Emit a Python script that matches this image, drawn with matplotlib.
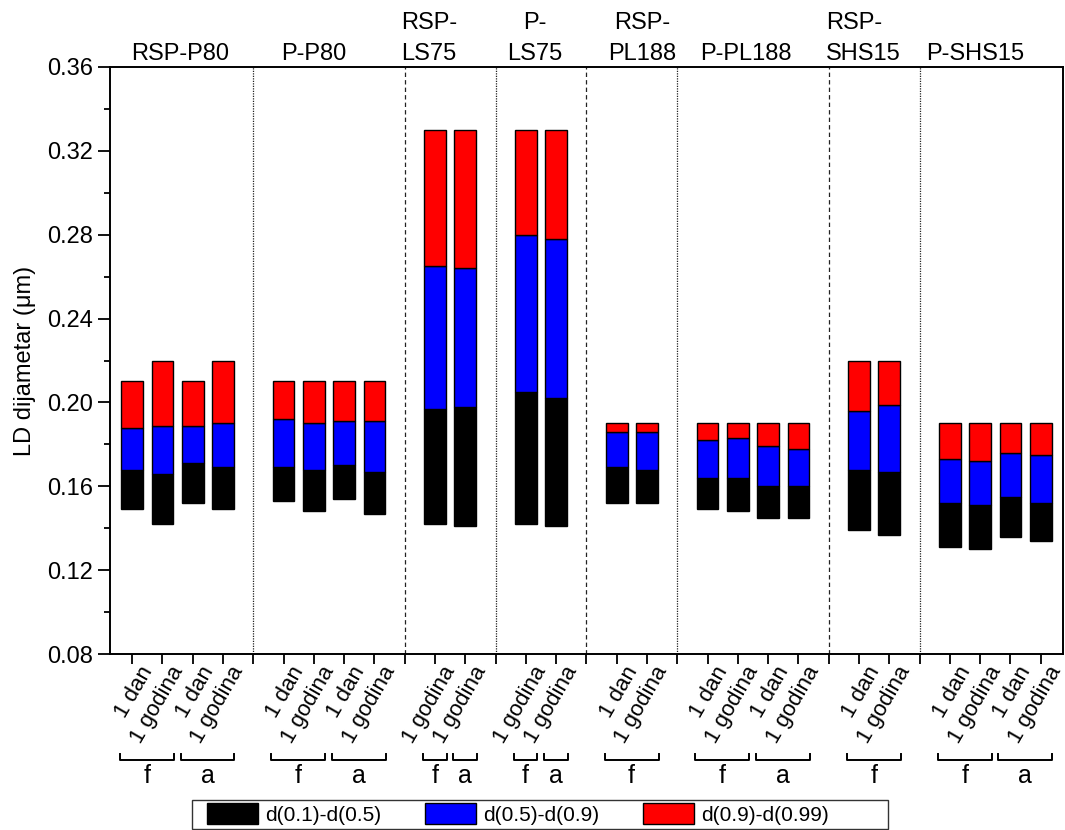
import numpy as np
import matplotlib
matplotlib.use('Agg')
import matplotlib.pyplot as plt
from matplotlib.patches import Patch, Rectangle
from matplotlib import transforms

plt.rcParams['font.family'] = ['Liberation Sans', 'DejaVu Sans']

# Sample groups (titles drawn above the plot)
groups = ['RSP-P80', 'P-P80', 'RSP-\nLS75', 'P-\nLS75',
          'RSP-\nPL188', 'P-PL188', 'RSP-\nSHS15', 'P-SHS15']

# Storage time for each bar, per group
times = [
    ['1 dan', '1 godina', '1 dan', '1 godina'],
    ['1 dan', '1 godina', '1 dan', '1 godina'],
    ['1 godina', '1 godina'],
    ['1 godina', '1 godina'],
    ['1 dan', '1 godina'],
    ['1 dan', '1 godina', '1 dan', '1 godina'],
    ['1 dan', '1 godina'],
    ['1 dan', '1 godina', '1 dan', '1 godina'],
]

# Sub-group brackets under the tick labels: (label, number of bars)
subgroups = [
    [('f', 2), ('a', 2)],
    [('f', 2), ('a', 2)],
    [('f', 1), ('a', 1)],
    [('f', 1), ('a', 1)],
    [('f', 2)],
    [('f', 2), ('a', 2)],
    [('f', 2)],
    [('f', 2), ('a', 2)],
]

# Diameter percentiles (um), one entry per bar, in plotting order
d10 = [0.149, 0.142, 0.152, 0.149,
       0.153, 0.148, 0.154, 0.147,
       0.142, 0.141,
       0.142, 0.141,
       0.152, 0.152,
       0.149, 0.148, 0.145, 0.145,
       0.139, 0.137,
       0.131, 0.130, 0.136, 0.134]
d50 = [0.168, 0.166, 0.171, 0.169,
       0.169, 0.168, 0.170, 0.167,
       0.197, 0.198,
       0.205, 0.202,
       0.169, 0.168,
       0.164, 0.164, 0.160, 0.160,
       0.168, 0.167,
       0.152, 0.151, 0.155, 0.152]
d90 = [0.188, 0.189, 0.189, 0.190,
       0.192, 0.190, 0.191, 0.191,
       0.265, 0.264,
       0.280, 0.278,
       0.186, 0.186,
       0.182, 0.183, 0.179, 0.178,
       0.196, 0.199,
       0.173, 0.172, 0.176, 0.175]
d99 = [0.210, 0.220, 0.210, 0.220,
       0.210, 0.210, 0.210, 0.210,
       0.330, 0.330,
       0.330, 0.330,
       0.190, 0.190,
       0.190, 0.190, 0.190, 0.190,
       0.220, 0.220,
       0.190, 0.190, 0.190, 0.190]

legend_labels = ['d(0.1)-d(0.5)', 'd(0.5)-d(0.9)', 'd(0.9)-d(0.99)']
seg_colors = ['#000000', '#0000ff', '#ff0000']

# ---- bar positions: one empty slot between groups holds the separator ----
positions, group_pos, separators = [], [], []
p = 1
for gi, g in enumerate(times):
    gp = list(range(p, p + len(g)))
    group_pos.append(gp)
    positions.extend(gp)
    p += len(g)
    if gi < len(times) - 1:
        separators.append(p)
        p += 1
positions = np.array(positions, dtype=float)

d10, d50, d90, d99 = map(np.array, (d10, d50, d90, d99))

W, H = 1065, 830
fig = plt.figure(figsize=(W / 100, H / 100), dpi=100)
ax = fig.add_axes([0.1033, 0.2120, 0.8947, 0.7073])

bw = 0.72
for bottom, top, col in zip((d10, d50, d90), (d50, d90, d99), seg_colors):
    ax.bar(positions, top - bottom, bottom=bottom, width=bw, color=col,
           edgecolor='black', linewidth=1.0, zorder=3)

# separators: dashed between materials, dotted between RSP/P of same material
def material(name):
    return name.split('-', 1)[1].strip()

for si, x in enumerate(separators):
    same = material(groups[si]) == material(groups[si + 1])
    ls = (0, (1, 1)) if same else (0, (3.5, 2.5))
    ax.axvline(x, color='#222222', lw=0.9, linestyle=ls, zorder=1)

ax.set_xlim(0.27, 31.73)
ax.set_ylim(0.08, 0.36)
ax.set_yticks(np.arange(0.08, 0.3601, 0.04))
ax.set_yticks(np.arange(0.10, 0.36, 0.04), minor=True)
ax.yaxis.set_major_formatter(matplotlib.ticker.FormatStrFormatter('%.2f'))

ax.tick_params(axis='both', which='major', direction='out', length=8.5,
               width=1.3, labelsize=17)
ax.tick_params(axis='x', which='major', length=7.5, pad=3.5, labelsize=16)
ax.tick_params(axis='y', which='major', pad=4)
ax.tick_params(axis='y', which='minor', direction='out', length=4, width=1.3)
ax.tick_params(top=False, right=False)
for s in ax.spines.values():
    s.set_linewidth(1.4)

all_ticks = list(positions) + separators
tick_text = [t for g in times for t in g] + [''] * len(separators)
ax.set_xticks(all_ticks)
ax.set_xticklabels(tick_text, rotation=60, rotation_mode='anchor',
                   ha='right', va='baseline', fontsize=16)
# shift each rotated label so its end sits to the right of its tick
offset = transforms.ScaledTranslation(15 / 72, -1 / 72, fig.dpi_scale_trans)
for lab in ax.get_xticklabels():
    lab.set_transform(lab.get_transform() + offset)

ax.set_ylabel('LD dijametar (\u03bcm)', fontsize=17, labelpad=8)

# group titles above the plot
blend = transforms.blended_transform_factory(ax.transData, ax.transAxes)
title_x = [2.6, 7.0, 10.8, 14.3, 17.85, 21.25, 25.15, 28.85]
for name, tx in zip(groups, title_x):
    malign = 'left' if 'SHS15' in name and '\n' in name else 'center'
    ax.text(tx, 1.003, name, transform=blend, ha='center', va='bottom',
            fontsize=17, linespacing=1.55, multialignment=malign)

# f / a brackets under the tick labels
yb, yt = -0.181, -0.171
for gp, subs in zip(group_pos, subgroups):
    i = 0
    for lab, n in subs:
        a, b = gp[i], gp[i + n - 1]
        x0, x1 = a - bw / 2 - 0.04, b + bw / 2 + 0.02
        ax.plot([x0, x0, x1, x1], [yt, yb, yb, yt], color='black', lw=1.4,
                transform=blend, clip_on=False)
        ax.text((x0 + x1) / 2, -0.207, lab, transform=blend, ha='center',
                va='center', fontsize=18)
        i += n

# legend: entries without frame, plus a separate rectangular frame
handles = [Patch(facecolor=c, edgecolor='black', linewidth=1.0) for c in seg_colors]
leg = fig.legend(handles, legend_labels, loc='center left',
                 bbox_to_anchor=(207 / W, 1 - 814 / H), ncol=3, fontsize=15,
                 frameon=False, handlelength=2.45, handleheight=1.15,
                 columnspacing=2.1, handletextpad=0.34, borderpad=0.0,
                 borderaxespad=0.0)
fig.patches.append(Rectangle((192 / W, 1 - 829 / H), (888 - 192) / W,
                             (829 - 800) / H, transform=fig.transFigure,
                             facecolor='none', edgecolor='#333333', lw=1.0))

fig.savefig('out.png', dpi=100, facecolor='white')
